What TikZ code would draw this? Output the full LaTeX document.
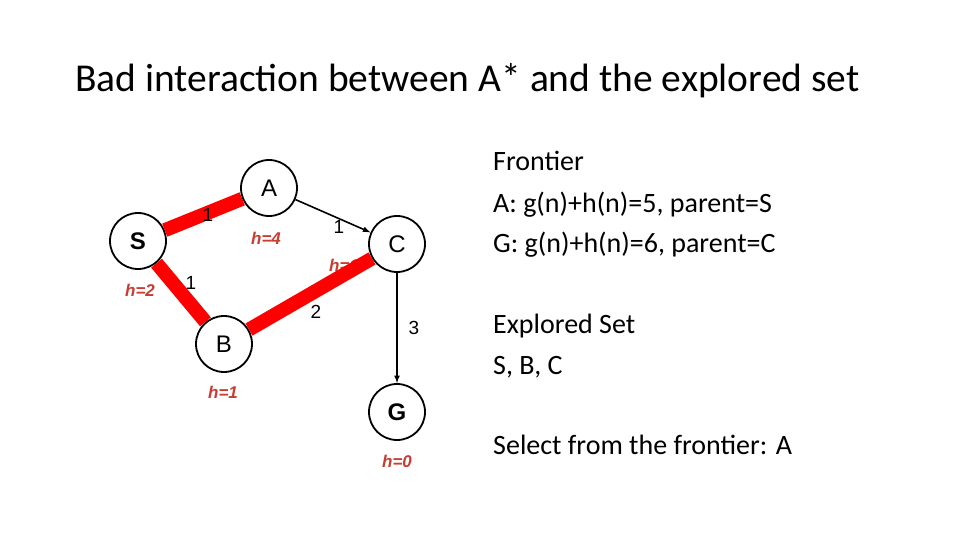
\documentclass[tikz,border=0pt]{standalone}
\usepackage{fontspec}
\setmainfont{Carlito}
\newfontfamily\arialf{Liberation Sans}
\definecolor{hred}{RGB}{200,60,50}
\begin{document}
\begin{tikzpicture}[x=1pt,y=-1pt,
  vtx/.style={circle,draw=black,line width=1.8pt,minimum size=56pt,inner sep=0pt,font=\arialf\fontsize{24}{26}\selectfont},
  hl/.style={text=hred,font=\arialf\bfseries\itshape\fontsize{17}{19}\selectfont},
  wl/.style={font=\arialf\fontsize{19}{21}\selectfont},
  red edge/.style={draw=red,line width=14pt},
  arr/.style={draw=black,line width=1.6pt,-latex},
  txt/.style={anchor=base west,inner sep=0pt,font=\fontsize{28}{32}\selectfont}]
\useasboundingbox (0,0) rectangle (960,540);
\node[anchor=base west,inner sep=0pt,font=\fontsize{39.5}{44}\selectfont] (title) at (75,92) {Bad interaction between A* and the explored set};
\node[vtx,font=\arialf\bfseries\fontsize{24}{26}\selectfont] (S) at (138,241) {S};
\node[vtx] (A) at (269,188) {A};
\node[vtx] (C) at (397,244) {C};
\node[vtx] (B) at (224,344) {B};
\node[vtx,font=\arialf\bfseries\fontsize{24}{26}\selectfont] (G) at (397,412) {G};
\draw[arr] (A) -- (C);
\draw[arr] (C) -- (G);
\node[hl] (hA) at (266,238) {h=4};
\node[hl] (hS) at (140,290) {h=2};
\node[hl] (hB) at (223,392) {h=1};
\node[hl] (hG) at (397,461) {h=0};
\node[hl] (hC) at (344,265) {h=1};
\draw[red edge] (S) -- (A);
\draw[red edge] (S) -- (B);
\draw[red edge] (B) -- (C);
\node[wl] (w1) at (208,215) {1};
\node[wl] (w2) at (191,283) {1};
\node[wl] (w3) at (339,227) {1};
\node[wl] (w4) at (316,312) {2};
\node[wl] (w5) at (414,328) {3};
\node[txt] (t1) at (493,171) {Frontier};
\node[txt] (t2) at (493,212) {A: g(n)+h(n)=5, parent=S};
\node[txt] (t3) at (493,252) {G: g(n)+h(n)=6, parent=C};
\node[txt] (t4) at (493,333) {Explored Set};
\node[txt] (t5) at (493,374) {S, B, C};
\node[txt] (t6) at (493,454) {Select from the frontier: A};
\end{tikzpicture}
\end{document}
